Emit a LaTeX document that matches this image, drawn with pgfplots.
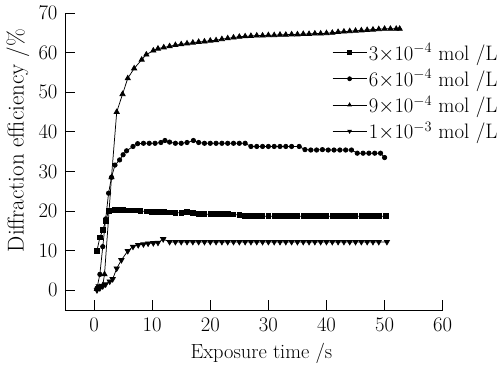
\documentclass[border=0pt]{standalone}
\usepackage{pgfplots}
\pgfplotsset{compat=1.18}
\begin{document}
\begin{tikzpicture}
\begin{axis}[
  scale only axis,
  width=377.7bp, height=297bp,
  xmin=-5, xmax=60, ymin=-5, ymax=70,
  axis lines=left,
  axis line style={-, line width=0.8pt},
  xtick={0,10,20,30,40,50,60},
  ytick={0,10,20,30,40,50,60,70},
  tick align=inside,
  major tick length=10bp,
  tick style={line width=0.8pt, black},
  tick label style={font=\fontsize{22.5}{24}\selectfont},
  yticklabel style={xshift=-4bp},
  xticklabel style={yshift=-5bp},
  xlabel={Exposure time /s},
  ylabel={Diffraction efficiency /\%},
  xlabel style={font=\fontsize{20.5}{22}\selectfont, at={(axis description cs:0.52,-0.145)}, anchor=center},
  ylabel style={font=\fontsize{23}{24}\selectfont, at={(axis description cs:-0.125,0.57)}, anchor=center},
  legend style={draw=none, fill=none, at={(rel axis cs:0.707,0.905)}, anchor=north west,
    inner sep=0pt, row sep=4bp, font=\fontsize{21}{22}\selectfont, cells={anchor=west}},
  legend image code/.code={\draw[mark repeat=2,mark phase=2,#1,mark size=2bp] plot coordinates {(0bp,0bp) (17bp,0bp) (34bp,0bp)};},
  every axis plot/.append style={black, line width=0.75pt},
]
\addplot[mark=square*, mark size=2.3bp, mark options={solid}] coordinates {
(0.5,10) (1,13.3) (1.5,15.2) (2,17.5) (2.5,20) (3,20.2) (3.5,20.3) (4,20.3) (5,20.3) (6,20.2) (7,20.2)
(8,20) (9,19.9) (10,19.8) (11,19.8) (12,19.8) (13,19.7) (14,19.5) (15,19.6) (16,19.8) (17,19.5)
(18,19.2) (19,19.2) (20,19.2) (21,19.2) (22,19.2) (23,19.2) (24,19.1) (25,19.0) (26,18.8)
(27,18.7) (28,18.7) (29,18.7) (30,18.7) (31,18.7) (32,18.7) (33,18.7) (34,18.7) (35,18.7)
(36,18.7) (37,18.7) (38,18.7) (39,18.7) (40,18.7) (41,18.7) (42,18.7) (43,18.7) (44,18.7)
(45,18.7) (46,18.7) (47,18.7) (48,18.7) (49,18.7) (50.2,18.7)
};
\addlegendentry{$3{\times}10^{-4}$ mol /L}
\addplot[mark=*, mark size=2.2bp] coordinates {
(0.5,0.5) (1,4) (1.5,11) (2,18) (2.5,24.5) (3,28.5) (3.6,31.6) (4.4,32.9) (5,34.2) (5.6,35.2)
(6.7,36.3) (7.5,37) (8.5,37.1) (9.5,37.1) (10.5,37.1) (11.5,37.3) (12.2,37.8) (13,37.4) (14,37.1)
(15,37.1) (16,37.3) (17.1,37.8) (18,37.3) (19,37.1) (20,37.1) (21,37.1) (22,37.1) (23,37.1)
(24,37.1) (25,37.1) (26,37.1) (27,36.3) (28,36.3) (29,36.3) (30,36.3) (31,36.3) (32,36.3)
(33,36.3) (34,36.3) (35.3,36.3) (36.3,35.5) (37.3,35.4) (38.3,35.4) (39.3,35.5) (40.3,35.4)
(41.3,35.4) (42.3,35.4) (43.3,35.4) (44.3,35.4) (45.3,34.6) (46.3,34.6) (47.3,34.6) (48.3,34.6)
(49.3,34.6) (50,33.5)
};
\addlegendentry{$6{\times}10^{-4}$ mol /L}
\addplot[mark=triangle*, mark size=3bp] coordinates {
(0.5,0.3) (1,0.8) (1.5,1.2) (1.8,4) (3,28.5) (3.9,45) (4.9,49.5) (5.8,53.5) (6.9,56) (8.2,58.2)
(9,59.5) (10.2,60.5) (11,61) (12,61.3) (13,61.6) (14,61.9) (15,62.1) (16,62.3) (17,62.5)
(18,62.7) (19,62.8) (20,63) (21,63.1) (22,63.4) (23,63.6) (24,63.8) (25,64) (26,64.1)
(27,64.2) (28,64.3) (29,64.3) (30,64.4) (31,64.4) (32,64.5) (33,64.5) (34,64.6) (35,64.6)
(36,64.7) (37,64.7) (38,64.8) (39,64.8) (40,64.9) (41,65) (42,65.2) (43,65.3) (44,65.4)
(45,65.5) (46,65.6) (47,65.7) (48,65.8) (49,65.9) (50,66) (51,66) (52,66) (52.6,66)
};
\addlegendentry{$9{\times}10^{-4}$ mol /L}
\addplot[mark=triangle*, mark size=3bp, mark options={rotate=180}] coordinates {
(0.5,0) (0.8,1) (1,0.5) (1.5,1) (2,1.5) (2.7,2.2) (3.2,2.8) (3.9,5.5) (4.7,7.6) (5.8,9.9)
(6.7,11) (7.6,11.4) (8.5,11.6) (9.3,11.8) (10.2,11.9) (11,12) (11.9,12.9) (13,12.2)
(14,12.2) (15,12.2) (16,12.2) (17,12.2) (18,12.2) (19,12.2) (20,12.2) (21,12.2) (22,12.2)
(23,12.2) (24,12.2) (25,12.2) (26,12.2) (27,12.2) (28,12.2) (29,12.2) (30,12.2) (31,12.2)
(32,12.2) (33,12.2) (34,12.2) (35,12.2) (36,12.2) (37,12.2) (38,12.2) (39,12.2) (40,12.2)
(41,12.2) (42,12.2) (43,12.2) (44,12.2) (45,12.2) (46,12.2) (47,12.2) (48,12.2) (49,12.2)
(50.4,12.2)
};
\addlegendentry{$1{\times}10^{-3}$ mol /L}
\end{axis}
\pgfresetboundingbox
\path[use as bounding box] (current axis.south west) ++(-65bp,-59bp) rectangle ++(503bp,369bp);
\end{tikzpicture}
\end{document}
